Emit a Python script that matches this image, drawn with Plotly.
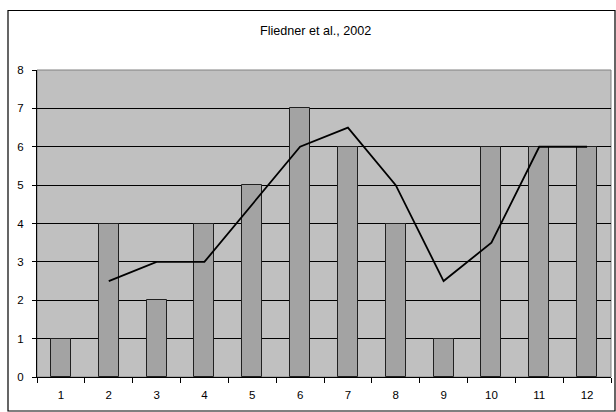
import plotly.graph_objects as go

categories = [1, 2, 3, 4, 5, 6, 7, 8, 9, 10, 11, 12]
bar_values = [1, 4, 2, 4, 5, 7, 6, 4, 1, 6, 6, 6]
line_x = [2, 3, 4, 5, 6, 7, 8, 9, 10, 11, 12]
line_values = [2.5, 3, 3, 4.5, 6, 6.5, 5, 2.5, 3.5, 6, 6]
title_text = "Fliedner et al., 2002"

W, H = 616, 412
L, R, T, B = 37, 5, 70, 35
pw, ph = W - L - R, H - T - B

def px_to_paper_x(px):
    return (px - L) / pw

def px_to_paper_y(py):
    return (H - B - py) / ph

fig = go.Figure()
fig.add_trace(go.Bar(
    x=categories, y=bar_values, width=0.42,
    marker=dict(color="#a3a3a3", line=dict(color="#202020", width=1)),
    showlegend=False,
))
fig.add_trace(go.Scatter(
    x=line_x, y=line_values, mode="lines",
    line=dict(color="black", width=1.8),
    showlegend=False,
))

font = dict(family="Liberation Sans, Arial, sans-serif", size=11, color="black")
title_font = dict(family="Liberation Sans, Arial, sans-serif", size=12.6, color="black")

fig.update_layout(
    width=W, height=H,
    margin=dict(l=L, r=R, t=T, b=B),
    paper_bgcolor="white",
    plot_bgcolor="#c0c0c0",
    font=font,
    bargap=0,
    xaxis=dict(
        range=[0.5, 12.5],
        tickvals=categories,
        ticktext=[str(c) for c in categories],
        ticks="",
        showgrid=False,
        zeroline=False,
        showline=True, linecolor="black", linewidth=1,
        minor=dict(tickvals=[c + 0.5 for c in [0] + categories], ticks="outside",
                   ticklen=5, tickcolor="black", showgrid=False),
        ticklabelstandoff=7,
        tickfont=dict(size=11.5),
        fixedrange=True,
    ),
    yaxis=dict(
        range=[0, 8],
        dtick=1,
        ticks="outside", ticklen=4, tickcolor="black",
        showgrid=True, gridcolor="black", gridwidth=1,
        zeroline=False,
        showline=True, linecolor="black", linewidth=1,
        ticklabelstandoff=6,
        tickfont=dict(size=11.5),
        fixedrange=True,
    ),
    shapes=[
        dict(type="rect", xref="paper", yref="paper", x0=0, x1=1, y0=0, y1=1,
             line=dict(color="#808080", width=1), layer="below"),
        dict(type="rect", xref="paper", yref="paper",
             x0=px_to_paper_x(8), x1=px_to_paper_x(615),
             y0=px_to_paper_y(411), y1=px_to_paper_y(10.5),
             line=dict(color="black", width=1.2)),
    ],
    annotations=[
        dict(text=title_text, xref="paper", yref="paper",
             x=px_to_paper_x(315), y=px_to_paper_y(31),
             showarrow=False, font=title_font, xanchor="center", yanchor="middle"),
    ],
)

fig.write_html("out.html", config={"displayModeBar": False},
               post_script="document.body.style.margin='0';document.body.style.overflow='hidden';")
